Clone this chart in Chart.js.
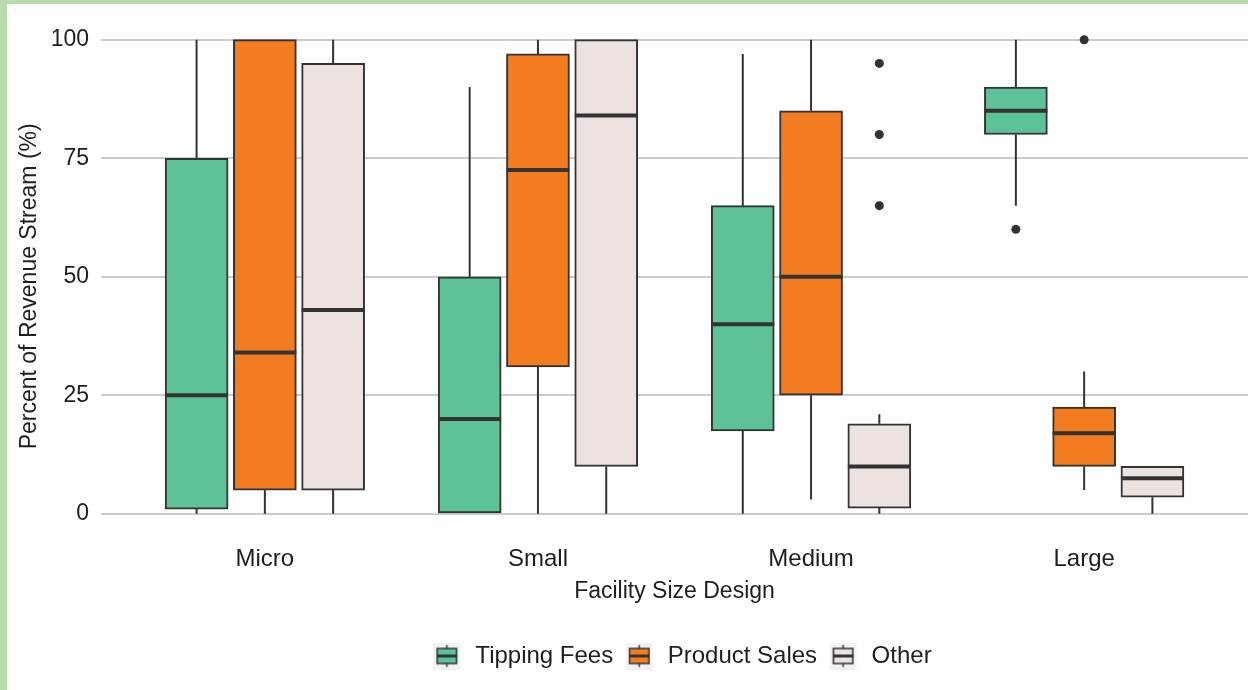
<!DOCTYPE html>
<html>
<head>
<meta charset="utf-8">
<script src="https://cdn.jsdelivr.net/npm/chart.js@4"></script>
<style>
  html, body { margin: 0; padding: 0; background: #fff; }
  #frame {
    width: 1248px; height: 690px; box-sizing: border-box;
    border-top: 4px solid #b9dcab; border-left: 7px solid #b9dcab;
    background: #fff;
  }
</style>
</head>
<body>
<div id="frame"><canvas id="boxChart" width="1241" height="686"></canvas></div>
<script>
var categories = ['Micro', 'Small', 'Medium', 'Large'];
var seriesNames = ['Tipping Fees', 'Product Sales', 'Other'];
var yTicks = [0, 25, 50, 75, 100];

// [lower whisker, q1, median, q3, upper whisker] for each size class
var tippingFees = [
  [0, 1, 25, 75, 100],
  [0, 0, 20, 50, 90],
  [0, 17.5, 40, 65, 97],
  [65, 80, 85, 90, 100]
];
var productSales = [
  [0, 5, 34, 100, 100],
  [0, 31, 72.5, 97, 100],
  [3, 25, 50, 85, 100],
  [5, 10, 17, 22.5, 30]
];
var otherRevenue = [
  [0, 5, 43, 95, 100],
  [0, 10, 84, 100, 100],
  [0, 1.2, 10, 19, 21],
  [0, 3.5, 7.5, 10, 10]
];

// outlying points: [category index, series index, value]
var outliers = [
  [2, 2, 95], [2, 2, 80], [2, 2, 65],
  [3, 0, 60],
  [3, 1, 100]
];

var summaries = [tippingFees, productSales, otherRevenue];
var fills = ['#5dc298', '#f47c20', '#ece3e1'];
var dodge = [-0.25, 0, 0.25];
var edge = '#333333';
var textColor = '#1e1e1e';
var fontFamily = '"Liberation Sans", Arial, sans-serif';

// small boxplot glyphs for the legend keys (grey key square + spacing on the right)
function makeKey(fill) {
  var c = document.createElement('canvas');
  c.width = 30; c.height = 27;
  var g = c.getContext('2d');
  g.fillStyle = '#f2f2f2';
  g.fillRect(0, 0, 27, 27);
  g.strokeStyle = edge;
  g.lineWidth = 1.5;
  g.beginPath();
  g.moveTo(13.5, 2.5); g.lineTo(13.5, 6);
  g.moveTo(13.5, 21); g.lineTo(13.5, 24.5);
  g.stroke();
  g.fillStyle = fill;
  g.fillRect(3.75, 6, 19.5, 15);
  g.strokeRect(3.75, 6, 19.5, 15);
  g.lineWidth = 3;
  g.beginPath();
  g.moveTo(3.75, 13.5); g.lineTo(23.25, 13.5);
  g.stroke();
  return c;
}
var legendKeys = fills.map(makeKey);

var datasets = summaries.map(function (rows, s) {
  return {
    type: 'bar',
    label: seriesNames[s],
    summary: rows,
    data: rows.map(function (r, i) {
      return { x: i + 1 + dodge[s], y: [r[1], r[3]] };
    }),
    backgroundColor: fills[s],
    borderColor: edge,
    borderWidth: 2,
    borderSkipped: false,
    barThickness: 63,
    grouped: false,
    order: 2
  };
});

datasets.push({
  type: 'scatter',
  label: 'outliers',
  data: outliers.map(function (o) {
    return { x: o[0] + 1 + dodge[o[1]], y: o[2] };
  }),
  backgroundColor: edge,
  borderWidth: 0,
  pointRadius: 4.5,
  order: 1
});

// whiskers behind the boxes, medians on top
var boxParts = {
  id: 'boxParts',
  afterLayout: function (chart) {
    // nudge the legend row to sit under the middle of the panel
    chart.legend.left += 8;
    chart.legend.right += 8;
  },
  beforeDatasetsDraw: function (chart) {
    var ctx = chart.ctx, y = chart.scales.y;
    ctx.save();
    ctx.strokeStyle = edge;
    ctx.lineWidth = 2;
    chart.data.datasets.forEach(function (ds, d) {
      if (!ds.summary) return;
      chart.getDatasetMeta(d).data.forEach(function (bar, i) {
        var r = ds.summary[i];
        ctx.beginPath();
        ctx.moveTo(bar.x, y.getPixelForValue(r[0]));
        ctx.lineTo(bar.x, y.getPixelForValue(r[1]));
        ctx.moveTo(bar.x, y.getPixelForValue(r[3]));
        ctx.lineTo(bar.x, y.getPixelForValue(r[4]));
        ctx.stroke();
      });
    });
    ctx.restore();
  },
  afterDatasetsDraw: function (chart) {
    var ctx = chart.ctx, y = chart.scales.y;
    ctx.save();
    ctx.strokeStyle = edge;
    ctx.lineWidth = 4;
    chart.data.datasets.forEach(function (ds, d) {
      if (!ds.summary) return;
      chart.getDatasetMeta(d).data.forEach(function (bar, i) {
        var m = y.getPixelForValue(ds.summary[i][2]);
        ctx.beginPath();
        ctx.moveTo(bar.x - bar.width / 2, m);
        ctx.lineTo(bar.x + bar.width / 2, m);
        ctx.stroke();
      });
    });
    ctx.restore();
  }
};

new Chart(document.getElementById('boxChart'), {
  type: 'bar',
  data: { datasets: datasets },
  plugins: [boxParts],
  options: {
    responsive: false,
    animation: false,
    devicePixelRatio: 1,
    layout: { autoPadding: false, padding: { top: 12, right: 0, bottom: 12, left: 0 } },
    plugins: {
      tooltip: { enabled: false },
      legend: {
        position: 'bottom',
        fullSize: false,
        labels: {
          usePointStyle: true,
          pointStyleWidth: 30,
          padding: 12.5,
          color: textColor,
          font: { family: fontFamily, size: 24 },
          generateLabels: function () {
            return seriesNames.map(function (name, i) {
              return {
                text: name,
                pointStyle: legendKeys[i],
                fillStyle: fills[i],
                strokeStyle: edge,
                lineWidth: 0,
                hidden: false,
                datasetIndex: i,
                fontColor: textColor
              };
            });
          }
        }
      }
    },
    scales: {
      x: {
        type: 'linear',
        min: 0.4,
        max: 4.6,
        offset: false,
        afterBuildTicks: function (scale) {
          scale.ticks = [1, 2, 3, 4].map(function (v) { return { value: v }; });
        },
        afterFit: function (scale) {
          scale.height = 94;
          scale.paddingLeft = 0;
          scale.paddingRight = 0;
        },
        grid: { display: false, drawTicks: false, offset: false },
        border: { display: false },
        ticks: {
          padding: 7,
          color: textColor,
          font: { family: fontFamily, size: 24 },
          callback: function (v) { return categories[Math.round(v) - 1]; }
        },
        title: {
          display: true,
          text: 'Facility Size Design',
          color: textColor,
          font: { family: fontFamily, size: 23 },
          padding: { top: 0, bottom: 26 }
        }
      },
      y: {
        min: -5,
        max: 105,
        afterBuildTicks: function (scale) {
          scale.ticks = yTicks.map(function (v) { return { value: v }; });
        },
        afterFit: function (scale) {
          scale.width = 94;
          scale.paddingTop = 0;
          scale.paddingBottom = 0;
        },
        grid: { color: '#cccccc', lineWidth: 2, drawTicks: false },
        border: { display: false },
        ticks: {
          padding: 12,
          color: textColor,
          font: { family: fontFamily, size: 23 }
        },
        title: {
          display: true,
          // trailing spaces push the rotated title a little lower
          text: 'Percent of Revenue Stream (%)   ',
          color: textColor,
          font: { family: fontFamily, size: 23 },
          padding: { top: 9, bottom: 0 }
        }
      }
    }
  }
});
</script>
</body>
</html>
